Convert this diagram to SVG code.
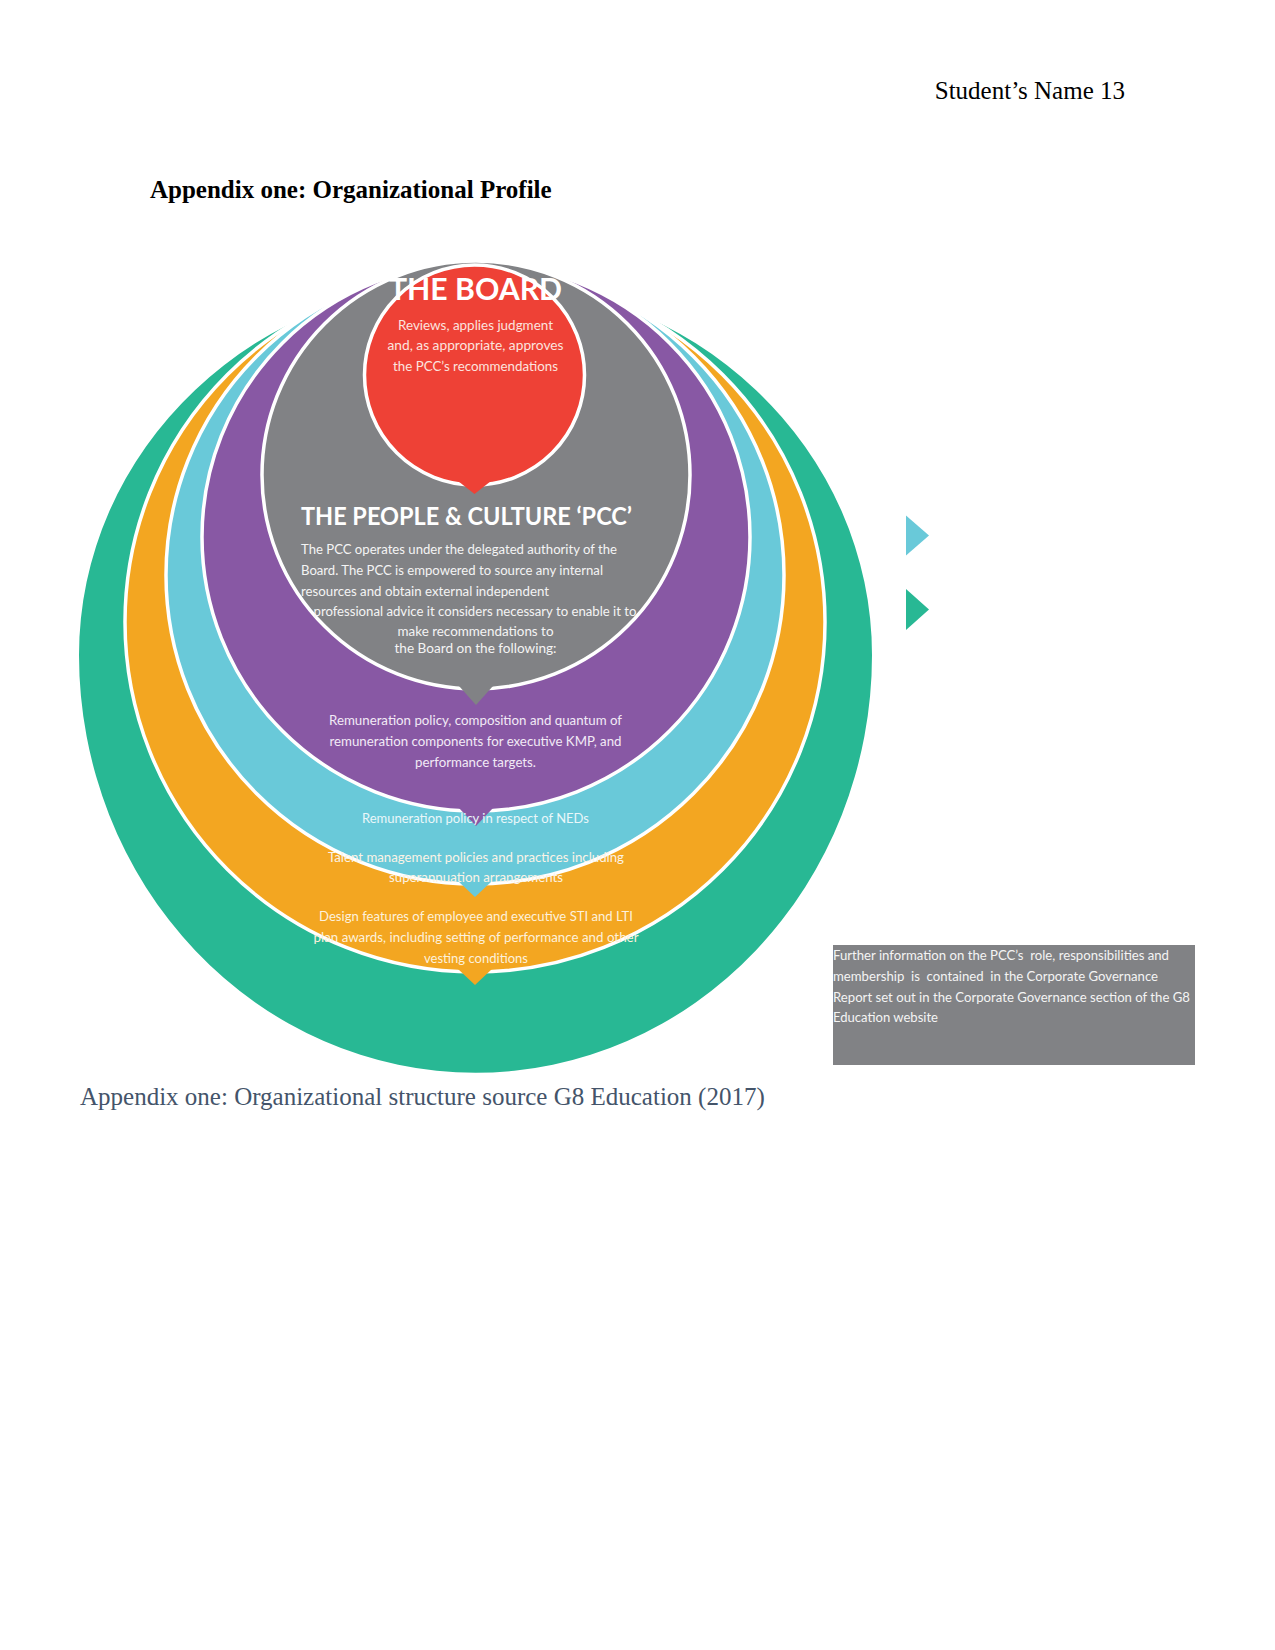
<svg xmlns="http://www.w3.org/2000/svg" width="1275" height="1650" viewBox="0 0 1275 1650">
  <style>
    .page { font-family: "Liberation Serif", "Times New Roman", serif; font-size: 25px; fill: #000000; }
    .caption { font-family: "Liberation Serif", "Times New Roman", serif; font-size: 25px; fill: #44546A; }
    .ring { stroke: #ffffff; stroke-width: 3.5; }
    .t { font-family: Lato, "Open Sans", "Liberation Sans", sans-serif; font-size: 13.5px; }
    .title { font-family: Lato, "Open Sans", "Liberation Sans", sans-serif; font-weight: bold; fill: #ffffff; }
    .mid { text-anchor: middle; }
    .pre { white-space: pre; }
  </style>

  <!-- page texts -->
  <text class="page" x="1125" y="99" text-anchor="end">Student’s Name 13</text>
  <text class="page" x="150" y="198" font-weight="bold">Appendix one: Organizational Profile</text>

  <!-- outer ring: green -->
  <g id="node-sti-lti">
    <path d="M79,655 A396.5,375 0 0 1 872,655 A396.5,418 0 0 1 79,655 Z" fill="#28B894"/>
  </g>

  <!-- orange ring -->
  <g id="node-talent">
    <circle class="ring" cx="475" cy="622" r="350" fill="#F3A621"/>
    <polygon points="458,969 492,969 475,985" fill="#F3A621"/>
  </g>

  <!-- cyan ring -->
  <g id="node-neds">
    <circle class="ring" cx="475" cy="575" r="309" fill="#69C9D9"/>
    <polygon points="458,881 492,881 475,897" fill="#69C9D9"/>
  </g>

  <!-- purple ring -->
  <g id="node-kmp">
    <circle class="ring" cx="476" cy="537" r="274" fill="#8858A4"/>
    <polygon points="459,808 493,808 476,826" fill="#8858A4"/>
  </g>

  <!-- gray: PCC -->
  <g id="node-pcc">
    <circle class="ring" cx="476" cy="475" r="214" fill="#818285"/>
    <polygon points="459,686 493,686 476,705" fill="#818285"/>
  </g>

  <!-- red: the board -->
  <g id="node-board">
    <circle class="ring" cx="474.5" cy="375" r="110" fill="#EE4136"/>
    <polygon points="458,481 491,481 474.5,494" fill="#EE4136"/>
  </g>

  <g id="connectors"></g>

  <!-- texts of nodes -->
  <g id="text-board">
    <text class="title" x="389" y="300" font-size="31" textLength="173" lengthAdjust="spacingAndGlyphs">THE BOARD</text>
    <text class="t mid" x="475.5" y="330" fill="#FCE3DF" textLength="155" lengthAdjust="spacingAndGlyphs">Reviews, applies judgment</text>
    <text class="t mid" x="475.5" y="350" fill="#FCE3DF" textLength="176" lengthAdjust="spacingAndGlyphs">and, as appropriate, approves</text>
    <text class="t mid" x="475.5" y="371" fill="#FCE3DF" textLength="165" lengthAdjust="spacingAndGlyphs">the PCC’s recommendations</text>
  </g>

  <g id="text-pcc">
    <text class="title" x="301" y="525" font-size="24" textLength="331" lengthAdjust="spacingAndGlyphs">THE PEOPLE &amp; CULTURE ‘PCC’</text>
    <text class="t" x="301" y="554" fill="#F4F4F4" textLength="316" lengthAdjust="spacingAndGlyphs">The PCC operates under the delegated authority of the</text>
    <text class="t" x="301" y="575" fill="#F4F4F4" textLength="302" lengthAdjust="spacingAndGlyphs">Board. The PCC is empowered to source any internal</text>
    <text class="t" x="301" y="595.5" fill="#F4F4F4" textLength="248" lengthAdjust="spacingAndGlyphs">resources and obtain external independent</text>
    <text class="t" x="313.5" y="616" fill="#F4F4F4" textLength="323" lengthAdjust="spacingAndGlyphs">professional advice it considers necessary to enable it to</text>
    <text class="t mid" x="475.5" y="636" fill="#F4F4F4" textLength="156" lengthAdjust="spacingAndGlyphs">make recommendations to</text>
    <text class="t mid" x="475.5" y="653" fill="#F4F4F4" textLength="162" lengthAdjust="spacingAndGlyphs">the Board on the following:</text>
  </g>

  <g id="text-kmp">
    <text class="t mid" x="475.5" y="725" fill="#F2EAF6" textLength="293" lengthAdjust="spacingAndGlyphs">Remuneration policy, composition and quantum of</text>
    <text class="t mid" x="475.5" y="746" fill="#F2EAF6" textLength="292" lengthAdjust="spacingAndGlyphs">remuneration components for executive KMP, and</text>
    <text class="t mid" x="475.5" y="767" fill="#F2EAF6" textLength="121" lengthAdjust="spacingAndGlyphs">performance targets.</text>
  </g>

  <g id="text-neds">
    <text class="t mid" x="475.5" y="823" fill="#EAF7F9" textLength="227" lengthAdjust="spacingAndGlyphs">Remuneration policy in respect of NEDs</text>
  </g>

  <g id="text-talent">
    <text class="t mid" x="476" y="861.5" fill="#FBF3E6" textLength="296" lengthAdjust="spacingAndGlyphs">Talent management policies and practices including</text>
    <text class="t mid" x="476" y="881.5" fill="#FBF3E6" textLength="174" lengthAdjust="spacingAndGlyphs">superannuation arrangements</text>
  </g>

  <g id="text-sti-lti">
    <text class="t mid" x="476" y="920.5" fill="#FDF1DC" textLength="314" lengthAdjust="spacingAndGlyphs">Design features of employee and executive STI and LTI</text>
    <text class="t mid" x="476" y="941.5" fill="#FDF1DC" textLength="325" lengthAdjust="spacingAndGlyphs">plan awards, including setting of performance and other</text>
    <text class="t mid" x="476" y="962.5" fill="#FDF1DC" textLength="104" lengthAdjust="spacingAndGlyphs">vesting conditions</text>
  </g>

  <!-- legend markers -->
  <g id="legend">
    <polygon points="906,515.5 906,555.5 929,535.5" fill="#69C9D9"/>
    <polygon points="906,589 906,630 929,609.5" fill="#28B894"/>
  </g>

  <!-- info box -->
  <g id="node-info">
    <rect x="833" y="945" width="362" height="120" fill="#818285"/>
    <text class="t pre" x="833" y="959.5" fill="#F4F4F4" textLength="336" lengthAdjust="spacingAndGlyphs">Further information on the PCC’s  role, responsibilities and</text>
    <text class="t pre" x="833" y="980.5" fill="#F4F4F4" textLength="325" lengthAdjust="spacingAndGlyphs">membership  is  contained  in the Corporate Governance</text>
    <text class="t pre" x="833" y="1001.5" fill="#F4F4F4" textLength="357" lengthAdjust="spacingAndGlyphs">Report set out in the Corporate Governance section of the G8</text>
    <text class="t pre" x="833" y="1021.5" fill="#F4F4F4" textLength="105" lengthAdjust="spacingAndGlyphs">Education website</text>
  </g>

  <text class="caption" x="80" y="1105">Appendix one: Organizational structure source G8 Education (2017)</text>
</svg>
